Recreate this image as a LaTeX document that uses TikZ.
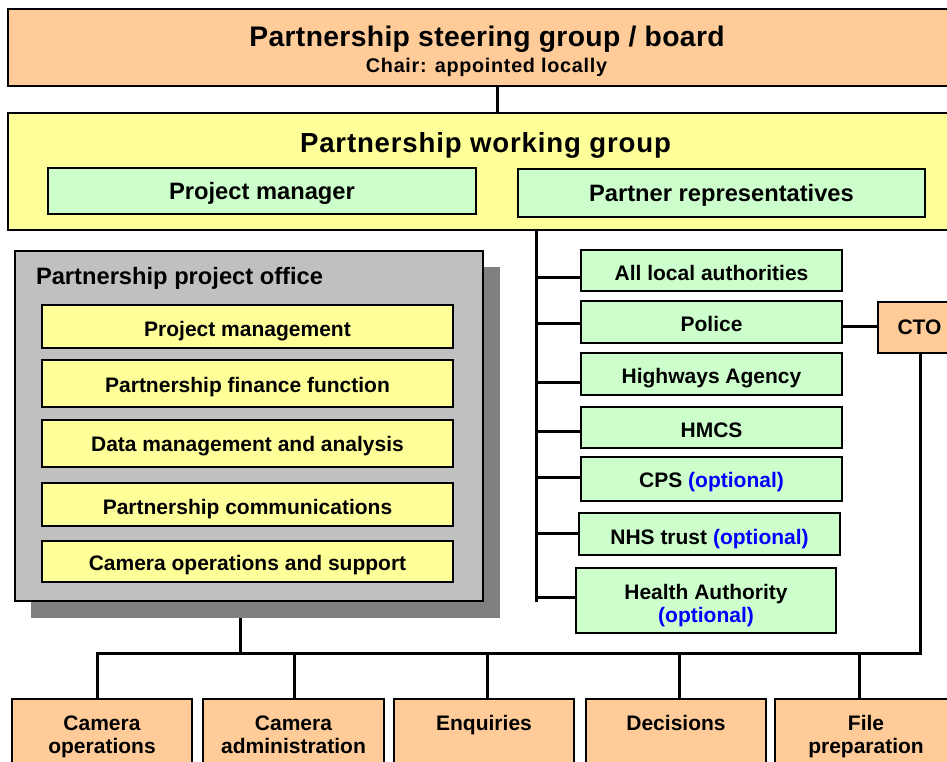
\documentclass[tikz,border=0pt]{standalone}
\usepackage{fontspec}
\setmainfont{Liberation Sans}
\newfontface\titlefont[LetterSpace=1.2]{Liberation Sans Bold}
\newfontface\chairfont[LetterSpace=3.5]{Liberation Sans Bold}
\newfontface\wgfont[LetterSpace=3]{Liberation Sans Bold}
\usetikzlibrary{fit}
\definecolor{orng}{HTML}{FFCC99}
\definecolor{yel}{HTML}{FFFF99}
\definecolor{grn}{HTML}{CCFFCC}
\definecolor{gry}{HTML}{C0C0C0}
\definecolor{shd}{HTML}{808080}
\definecolor{optblue}{HTML}{0000FF}
\newcommand\fsz[1]{\fontsize{#1}{#1}\selectfont}
\newcommand\opt{\textcolor{optblue}{(optional)}}
\tikzset{
  box/.style={draw=black, line width=2.6pt, inner sep=0pt, outer sep=0pt},
  obox/.style={box, fill=orng},
  ybox/.style={box, fill=yel},
  gbox/.style={box, fill=grn},
  conn/.style={draw=black, line width=3pt, line cap=rect},
  txt/.style={anchor=base, inner sep=0pt, outer sep=0pt, font=\fsz{21}\bfseries},
}
\begin{document}
\begin{tikzpicture}[x=1pt,y=-1pt]
\useasboundingbox (0,0) rectangle (947,762);
\clip (0,0) rectangle (947,762);
\fill[white] (0,0) rectangle (947,762);

% coordinates for connectors
\coordinate (jx) at (497,0);
\coordinate (spx) at (536,0);
\coordinate (spbot) at (536,600);
\coordinate (b1) at (536,277);
\coordinate (b2) at (536,323);
\coordinate (b3) at (536,382);
\coordinate (b4) at (536,431);
\coordinate (b5) at (536,477);
\coordinate (b6) at (536,533);
\coordinate (b7) at (536,597);
\coordinate (pc) at (860,326);
\coordinate (ofx) at (240,653);
\coordinate (busL) at (97,653);
\coordinate (busR) at (920,653);
\coordinate (d2) at (294,653);
\coordinate (d3) at (487,653);
\coordinate (d4) at (679,653);
\coordinate (d5) at (859,653);

% named box areas
\path
  node[fit={(8,9) (962,86)}, inner sep=0pt, outer sep=0pt] (steer) {}
  node[fit={(8,113) (962,230)}, inner sep=0pt, outer sep=0pt] (wg) {}
  node[fit={(31,267) (500,618)}, inner sep=0pt, outer sep=0pt] (shadow) {}
  node[fit={(581,250) (842,291)}, inner sep=0pt, outer sep=0pt] (ala) {}
  node[fit={(581,301) (842,343)}, inner sep=0pt, outer sep=0pt] (pol) {}
  node[fit={(581,353) (842,395)}, inner sep=0pt, outer sep=0pt] (hwy) {}
  node[fit={(581,407) (842,448)}, inner sep=0pt, outer sep=0pt] (hmcs) {}
  node[fit={(581,457) (842,501)}, inner sep=0pt, outer sep=0pt] (cps) {}
  node[fit={(579,513) (840,555)}, inner sep=0pt, outer sep=0pt] (nhs) {}
  node[fit={(576,568) (836,633)}, inner sep=0pt, outer sep=0pt] (ha) {}
  node[fit={(878,302) (961,353)}, inner sep=0pt, outer sep=0pt] (cto) {}
  node[fit={(12,699) (192,780)}, inner sep=0pt, outer sep=0pt] (c1) {}
  node[fit={(203,699) (384,780)}, inner sep=0pt, outer sep=0pt] (c2) {}
  node[fit={(394,699) (574,780)}, inner sep=0pt, outer sep=0pt] (c3) {}
  node[fit={(586,699) (766,780)}, inner sep=0pt, outer sep=0pt] (c4) {}
  node[fit={(775,699) (957,780)}, inner sep=0pt, outer sep=0pt] (c5) {};

% connectors
\draw[conn] (steer.south -| jx) -- (wg.north -| jx);
\draw[conn] (wg.south -| spx) -- (spbot);
\draw[conn] (b1) -- (b1 -| ala.west);
\draw[conn] (b2) -- (b2 -| pol.west);
\draw[conn] (b3) -- (b3 -| hwy.west);
\draw[conn] (b4) -- (b4 -| hmcs.west);
\draw[conn] (b5) -- (b5 -| cps.west);
\draw[conn] (b6) -- (b6 -| nhs.west);
\draw[conn] (b7) -- (b7 -| ha.west);
\draw[conn] (pc -| pol.east) -- (pc -| cto.west);
\draw[conn] (cto.south -| busR) -- (busR) -- (busL);
\draw[conn] (shadow.south -| ofx) -- (ofx);
\draw[conn] (busL) -- (busL |- c1.north);
\draw[conn] (d2) -- (d2 |- c2.north);
\draw[conn] (d3) -- (d3 |- c3.north);
\draw[conn] (d4) -- (d4 |- c4.north);
\draw[conn] (d5) -- (d5 |- c5.north);

% filled boxes
\draw[obox] (steer.north west) rectangle (steer.south east);
\draw[ybox] (wg.north west) rectangle (wg.south east);
\node[gbox, fit={(48,168) (476,214)}] (pm) {};
\node[gbox, fit={(518,169) (925,217)}] (pr) {};
\fill[shd] (shadow.north west) rectangle (shadow.south east);
\node[box, fill=gry, line width=1.8pt, fit={(15,251) (483,601)}] (office) {};
\node[ybox, fit={(42,305) (453,348)}] (o1) {};
\node[ybox, fit={(42,360) (453,407)}] (o2) {};
\node[ybox, fit={(42,420) (453,467)}] (o3) {};
\node[ybox, fit={(42,483) (453,526)}] (o4) {};
\node[ybox, fit={(42,541) (453,582)}] (o5) {};
\foreach \n in {ala,pol,hwy,hmcs,cps,nhs,ha} {
  \draw[gbox] (\n.north west) rectangle (\n.south east);
}
\draw[obox] (cto.north west) rectangle (cto.south east);
\foreach \n in {c1,c2,c3,c4,c5} {
  \draw[obox] (\n.north west) rectangle (\n.south east);
}

% texts
\node[txt, font=\titlefont\fsz{28.3}] (t-steer) at (487,47) {Partnership steering group / board};
\node[txt, font=\chairfont\fsz{19.8}] (t-chair) at (486.5,73) {Chair: appointed locally};
\node[txt, font=\wgfont\fsz{27.6}] (t-wg) at (485.5,153) {Partnership working group};
\node[txt, font=\fsz{23.7}\bfseries] (t-pm) at (262,200) {Project manager};
\node[txt, font=\fsz{23.7}\bfseries] (t-pr) at (721.5,201.5) {Partner representatives};
\node[txt, anchor=base west, font=\fsz{23.7}\bfseries] (t-office) at (36,284) {Partnership project office};
\node[txt] (t-o1) at (247.5,336) {Project management};
\node[txt] (t-o2) at (247.5,392) {Partnership finance function};
\node[txt] (t-o3) at (247.5,451) {Data management and analysis};
\node[txt] (t-o4) at (247.5,514) {Partnership communications};
\node[txt] (t-o5) at (247.5,570) {Camera operations and support};
\node[txt] (t-ala) at (711.5,280) {All local authorities};
\node[txt] (t-pol) at (711.5,331) {Police};
\node[txt] (t-hwy) at (711.5,383) {Highways Agency};
\node[txt] (t-hmcs) at (711.5,437) {HMCS};
\node[txt] (t-cps) at (711.5,487) {CPS \opt};
\node[txt] (t-nhs) at (709.5,544) {NHS trust \opt};
\node[txt] (t-ha1) at (706,599) {Health Authority};
\node[txt] (t-ha2) at (706,622) {\opt};
\node[txt] (t-cto) at (919.5,334) {CTO};
\node[txt] (t-c1a) at (102,730) {Camera};
\node[txt] (t-c1b) at (102,753) {operations};
\node[txt] (t-c2a) at (293.5,730) {Camera};
\node[txt] (t-c2b) at (293.5,753) {administration};
\node[txt] (t-c3) at (484,730) {Enquiries};
\node[txt] (t-c4) at (676,730) {Decisions};
\node[txt] (t-c5a) at (866,730) {File};
\node[txt] (t-c5b) at (866,753) {preparation};
\end{tikzpicture}
\end{document}
